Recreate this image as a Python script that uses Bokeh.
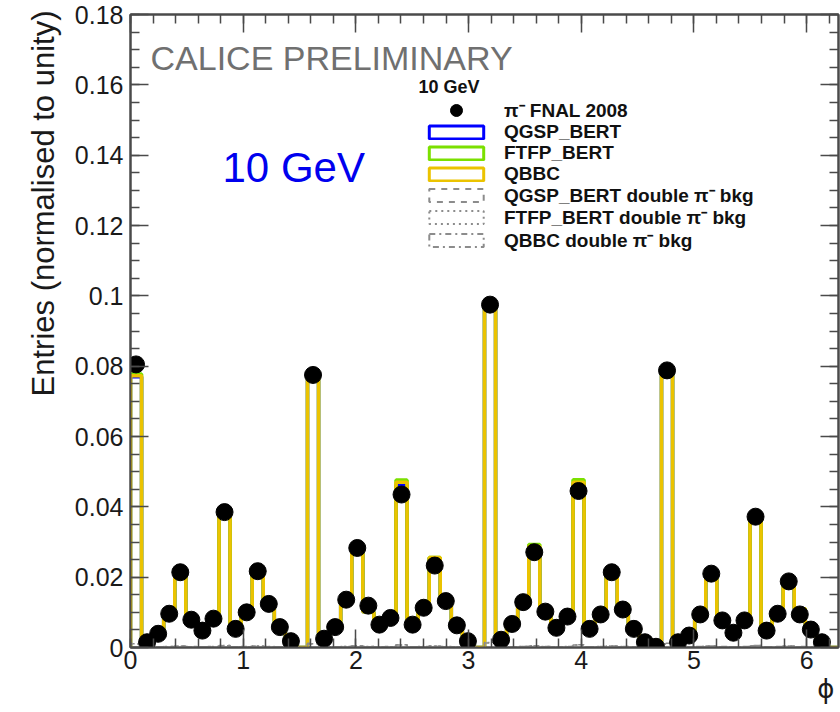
import numpy as np
from bokeh.plotting import figure
from bokeh.models import (Range1d, LinearAxis, FixedTicker, CustomJSTickFormatter,
                          Label, Legend, LegendItem, ColumnDataSource, Title)
from bokeh.embed import file_html
from bokeh.resources import INLINE

# ---------------- data ----------------
n_bins = 64
phi_min, phi_max = 0.0, 2 * np.pi

data_vals = [0.0805, 0.0015, 0.0039, 0.0096, 0.0214, 0.0079, 0.0048, 0.0082,
             0.0385, 0.0053, 0.0100, 0.0217, 0.0124, 0.0058, 0.0018, 0.0,
             0.0775, 0.0025, 0.0058, 0.0136, 0.0283, 0.0119, 0.0065, 0.0084,
             0.0435, 0.0065, 0.0113, 0.0233, 0.0132, 0.0063, 0.0018, 0.0,
             0.0975, 0.0022, 0.0067, 0.0129, 0.0271, 0.0102, 0.0056, 0.0088,
             0.0445, 0.0053, 0.0094, 0.0214, 0.0108, 0.0053, 0.0015, 0.0002,
             0.0788, 0.0015, 0.0034, 0.0094, 0.0210, 0.0077, 0.0042, 0.0077,
             0.0372, 0.0048, 0.0096, 0.0188, 0.0094, 0.0051, 0.0015, 0.0]

qbbc_vals = [0.0773, 0.0016, 0.0040, 0.0097, 0.0214, 0.0080, 0.0049, 0.0083,
             0.0385, 0.0054, 0.0101, 0.0217, 0.0124, 0.0059, 0.0019, 0.0,
             0.0768, 0.0025, 0.0059, 0.0136, 0.0283, 0.0102, 0.0066, 0.0085,
             0.0470, 0.0066, 0.0113, 0.0256, 0.0133, 0.0064, 0.0019, 0.0,
             0.0970, 0.0023, 0.0068, 0.0129, 0.0288, 0.0103, 0.0057, 0.0089,
             0.0470, 0.0054, 0.0095, 0.0214, 0.0122, 0.0054, 0.0016, 0.0,
             0.0785, 0.0016, 0.0035, 0.0095, 0.0210, 0.0078, 0.0043, 0.0078,
             0.0372, 0.0049, 0.0097, 0.0188, 0.0110, 0.0052, 0.0016, 0.0]

ftfp_vals = [0.0778, 0.0016, 0.0040, 0.0097, 0.0214, 0.0080, 0.0049, 0.0083,
             0.0385, 0.0054, 0.0101, 0.0217, 0.0124, 0.0059, 0.0019, 0.0,
             0.0772, 0.0025, 0.0059, 0.0136, 0.0283, 0.0102, 0.0066, 0.0085,
             0.0476, 0.0066, 0.0113, 0.0256, 0.0133, 0.0064, 0.0019, 0.0,
             0.0970, 0.0023, 0.0068, 0.0129, 0.0293, 0.0103, 0.0057, 0.0089,
             0.0477, 0.0054, 0.0095, 0.0214, 0.0122, 0.0054, 0.0016, 0.0,
             0.0785, 0.0016, 0.0035, 0.0095, 0.0210, 0.0078, 0.0043, 0.0078,
             0.0372, 0.0049, 0.0097, 0.0188, 0.0110, 0.0052, 0.0016, 0.0]

qgsp_vals = [0.0770, 0.0016, 0.0040, 0.0097, 0.0213, 0.0080, 0.0049, 0.0083,
             0.0384, 0.0054, 0.0101, 0.0216, 0.0124, 0.0059, 0.0019, 0.0,
             0.0766, 0.0025, 0.0059, 0.0136, 0.0282, 0.0102, 0.0066, 0.0085,
             0.0462, 0.0066, 0.0113, 0.0254, 0.0133, 0.0064, 0.0019, 0.0,
             0.0968, 0.0023, 0.0068, 0.0129, 0.0285, 0.0103, 0.0057, 0.0089,
             0.0466, 0.0054, 0.0095, 0.0213, 0.0121, 0.0054, 0.0016, 0.0,
             0.0783, 0.0016, 0.0035, 0.0095, 0.0209, 0.0078, 0.0043, 0.0078,
             0.0371, 0.0049, 0.0097, 0.0187, 0.0108, 0.0052, 0.0016, 0.0]

qgsp_bkg = [0.0012, 0.0002, 0.0002, 0.0003, 0.0004, 0.0003, 0.0002, 0.0003,
            0.0006, 0.0002, 0.0003, 0.0004, 0.0003, 0.0002, 0.0001, 0.0,
            0.0012, 0.0002, 0.0002, 0.0003, 0.0005, 0.0003, 0.0002, 0.0003,
            0.0008, 0.0002, 0.0003, 0.0004, 0.0003, 0.0002, 0.0001, 0.0,
            0.0015, 0.0002, 0.0002, 0.0003, 0.0005, 0.0003, 0.0002, 0.0003,
            0.0008, 0.0002, 0.0003, 0.0004, 0.0003, 0.0002, 0.0001, 0.0,
            0.0012, 0.0002, 0.0002, 0.0003, 0.0004, 0.0003, 0.0002, 0.0003,
            0.0006, 0.0002, 0.0003, 0.0004, 0.0003, 0.0002, 0.0001, 0.0]

ftfp_bkg = [0.0011, 0.0002, 0.0002, 0.0003, 0.0004, 0.0002, 0.0002, 0.0003,
            0.0006, 0.0002, 0.0003, 0.0004, 0.0003, 0.0002, 0.0001, 0.0,
            0.0011, 0.0002, 0.0002, 0.0003, 0.0005, 0.0003, 0.0002, 0.0002,
            0.0007, 0.0002, 0.0003, 0.0004, 0.0003, 0.0002, 0.0001, 0.0,
            0.0014, 0.0002, 0.0002, 0.0003, 0.0005, 0.0003, 0.0002, 0.0003,
            0.0007, 0.0002, 0.0003, 0.0004, 0.0003, 0.0002, 0.0001, 0.0,
            0.0011, 0.0002, 0.0002, 0.0003, 0.0004, 0.0002, 0.0002, 0.0003,
            0.0006, 0.0002, 0.0003, 0.0004, 0.0002, 0.0002, 0.0001, 0.0]

qbbc_bkg = [0.0010, 0.0001, 0.0002, 0.0002, 0.0004, 0.0002, 0.0002, 0.0002,
            0.0005, 0.0002, 0.0002, 0.0004, 0.0002, 0.0002, 0.0001, 0.0,
            0.0010, 0.0001, 0.0002, 0.0003, 0.0004, 0.0002, 0.0002, 0.0002,
            0.0007, 0.0002, 0.0002, 0.0004, 0.0002, 0.0002, 0.0001, 0.0,
            0.0013, 0.0001, 0.0002, 0.0003, 0.0004, 0.0002, 0.0002, 0.0002,
            0.0007, 0.0002, 0.0002, 0.0004, 0.0002, 0.0002, 0.0001, 0.0,
            0.0010, 0.0001, 0.0002, 0.0002, 0.0004, 0.0002, 0.0002, 0.0002,
            0.0005, 0.0002, 0.0002, 0.0004, 0.0002, 0.0002, 0.0001, 0.0]

x_ticks = [0, 1, 2, 3, 4, 5, 6]
x_tick_labels = ["0", "1", "2", "3", "4", "5", "6"]
y_ticks = [0.0, 0.02, 0.04, 0.06, 0.08, 0.10, 0.12, 0.14, 0.16, 0.18]
y_tick_labels = ["0", "0.02", "0.04", "0.06", "0.08", "0.1", "0.12", "0.14", "0.16", "0.18"]

x_title = "ϕ"
y_title = "Entries (normalised to unity)"
legend_title = "10 GeV"
data_label = "π⁻ FNAL 2008"
mc_labels = ["QGSP_BERT", "FTFP_BERT", "QBBC"]
bkg_labels = ["QGSP_BERT double π⁻ bkg", "FTFP_BERT double π⁻ bkg", "QBBC double π⁻ bkg"]

# ---------------- styling ----------------
FONT = "Liberation Sans"
AX = "#4a4a4a"
C_QGSP = "#0000ff"
C_FTFP = "#7be000"
C_QBBC = "#ebc300"
C_BKG = "#8c8c8c"
FRAME_TOP, FRAME_BOTTOM, FRAME_LEFT = 14, 647, 130

edges = np.linspace(phi_min, phi_max, n_bins + 1)
centers = 0.5 * (edges[:-1] + edges[1:])


def step_path(vals):
    v = np.asarray(vals, dtype=float)
    xs = np.repeat(edges, 2)
    ys = np.concatenate([[0.0], np.repeat(v, 2), [0.0]])
    return xs, ys


p = figure(width=840, height=712, output_backend="svg", toolbar_location=None,
           x_range=Range1d(phi_min, phi_max), y_range=Range1d(0, 0.18),
           min_border_left=FRAME_LEFT, min_border_right=2, min_border_top=FRAME_TOP,
           min_border_bottom=65, x_axis_location=None, y_axis_location=None)
p.background_fill_color = "white"
p.border_fill_color = "white"
p.outline_line_color = AX
p.outline_line_width = 2
p.xgrid.visible = False
p.ygrid.visible = False

x_minor = [float(v) for v in np.round(np.arange(0, 6.3, 0.2), 3)]
y_minor = [float(v) for v in np.round(np.arange(0, 0.1801, 0.005), 4)]
FMT_CODE = """
let b = 0;
for (let i = 0; i < tvals.length; i++) {
  if (Math.abs(tvals[i] - tick) < Math.abs(tvals[b] - tick)) b = i;
}
return tlabels[b];"""
xfmt = CustomJSTickFormatter(args=dict(tvals=x_ticks, tlabels=x_tick_labels), code=FMT_CODE)
yfmt = CustomJSTickFormatter(args=dict(tvals=y_ticks, tlabels=y_tick_labels), code=FMT_CODE)
blankfmt = CustomJSTickFormatter(code="return '';")


def style_axis(ax, ticker, fmt, standoff):
    ax.ticker = ticker
    ax.formatter = fmt
    ax.axis_line_color = AX
    ax.axis_line_width = 2
    ax.major_tick_line_color = AX
    ax.minor_tick_line_color = AX
    ax.major_tick_line_width = 1.5
    ax.minor_tick_line_width = 1.5
    ax.major_tick_in = 18
    ax.major_tick_out = 0
    ax.minor_tick_in = 9
    ax.minor_tick_out = 0
    ax.major_label_standoff = standoff
    ax.major_label_text_font = FONT
    ax.major_label_text_font_size = "25px"
    ax.major_label_text_color = "#1a1a1a"


bottom = LinearAxis()
style_axis(bottom, FixedTicker(ticks=x_ticks, minor_ticks=x_minor), xfmt, 3)
left = LinearAxis()
style_axis(left, FixedTicker(ticks=y_ticks, minor_ticks=y_minor), yfmt, 7)
top = LinearAxis()
style_axis(top, FixedTicker(ticks=x_ticks, minor_ticks=x_minor), blankfmt, 0)
right = LinearAxis()
style_axis(right, FixedTicker(ticks=y_ticks, minor_ticks=y_minor), blankfmt, 0)
p.add_layout(bottom, "below")
p.add_layout(left, "left")
p.add_layout(top, "above")
p.add_layout(right, "right")

# axis titles (ROOT style: right/top aligned)
p.add_layout(Title(text=y_title, align="right", text_font=FONT, text_font_size="31px",
                   text_font_style="normal", text_color="#1a1a1a", standoff=21, offset=-4), "left")
p.add_layout(Title(text=x_title, align="right", text_font="DejaVu Sans", text_font_size="26px",
                   text_font_style="normal", text_color="#1a1a1a", standoff=0, offset=4), "below")

# histograms
for vals, col in [(qgsp_vals, C_QGSP), (ftfp_vals, C_FTFP), (qbbc_vals, C_QBBC)]:
    xs, ys = step_path(vals)
    p.line(xs, ys, line_color=col, line_width=3.5)

for vals, dash in [(qgsp_bkg, "dashed"), (ftfp_bkg, "dotted"), (qbbc_bkg, "dashdot")]:
    xs, ys = step_path(vals)
    p.line(xs, ys, line_color=C_BKG, line_width=1.5, line_dash=dash)

dv = np.asarray(data_vals)
mask = dv > 0
src = ColumnDataSource(dict(x=centers[mask], y=dv[mask]))
pts = p.scatter("x", "y", source=src, size=17, marker="circle",
                fill_color="black", line_color="black")

# legend proxies (one undrawable NaN row each, only shown in the legend)
nan = float("nan")
leg_pt = p.scatter(x=[nan], y=[nan], size=13, marker="circle", fill_color="black", line_color="black")
box_rs = []
for col in [C_QGSP, C_FTFP, C_QBBC]:
    box_rs.append(p.quad(left=[nan], right=[nan], top=[nan], bottom=[nan], fill_color="white",
                         fill_alpha=0.0, line_color=col, line_width=3))
for dash in ["dashed", "dotted", "dashdot"]:
    box_rs.append(p.quad(left=[nan], right=[nan], top=[nan], bottom=[nan], fill_color="white",
                         fill_alpha=0.0, line_color=C_BKG, line_width=2, line_dash=dash))


def one_row_legend(label, renderer, row_center, row_h, glyph_h):
    lg = Legend(items=[LegendItem(label=label, renderers=[renderer])],
                location=(292, FRAME_BOTTOM - (row_center + row_h / 2.0)))
    lg.background_fill_alpha = 0
    lg.border_line_color = None
    lg.padding = 0
    lg.margin = 0
    lg.label_text_font = FONT
    lg.label_text_font_size = "19px"
    lg.label_text_font_style = "bold"
    lg.label_text_color = "#111111"
    lg.glyph_width = 68
    lg.glyph_height = glyph_h
    lg.label_height = 22
    lg.label_standoff = 14
    lg.spacing = 0
    p.add_layout(lg, "center")


one_row_legend(data_label, leg_pt, 110, 30, 30)
row_centers = [131.7, 153.3, 174.0, 195.0, 216.7, 240.0]
row_heights = [22, 22, 22, 26, 26, 26]
for lbl, r, c, h in zip(mc_labels + bkg_labels, box_rs, row_centers, row_heights):
    one_row_legend(lbl, r, c, h, 16)

# texts inside the frame
px_x = (phi_max - phi_min) / 708.0
px_y = 0.18 / 633.0
p.add_layout(Label(x=(418 - FRAME_LEFT) * px_x, y=0.18 - (86.7 - FRAME_TOP) * px_y, text=legend_title,
                   text_font=FONT, text_font_size="18px", text_font_style="bold", text_color="#111111",
                   text_baseline="middle", text_align="left"))
p.add_layout(Label(x=20 * px_x, y=0.18 - (57 - FRAME_TOP) * px_y, text="CALICE PRELIMINARY",
                   text_font=FONT, text_font_size="34px", text_color="#707070",
                   text_baseline="middle", text_align="left"))
p.add_layout(Label(x=(222 - FRAME_LEFT) * px_x, y=0.18 - (167 - FRAME_TOP) * px_y, text="10 GeV",
                   text_font=FONT, text_font_size="42px", text_color="#0000ee",
                   text_baseline="middle", text_align="left"))

open("out.html", "w").write(file_html(p, INLINE))
